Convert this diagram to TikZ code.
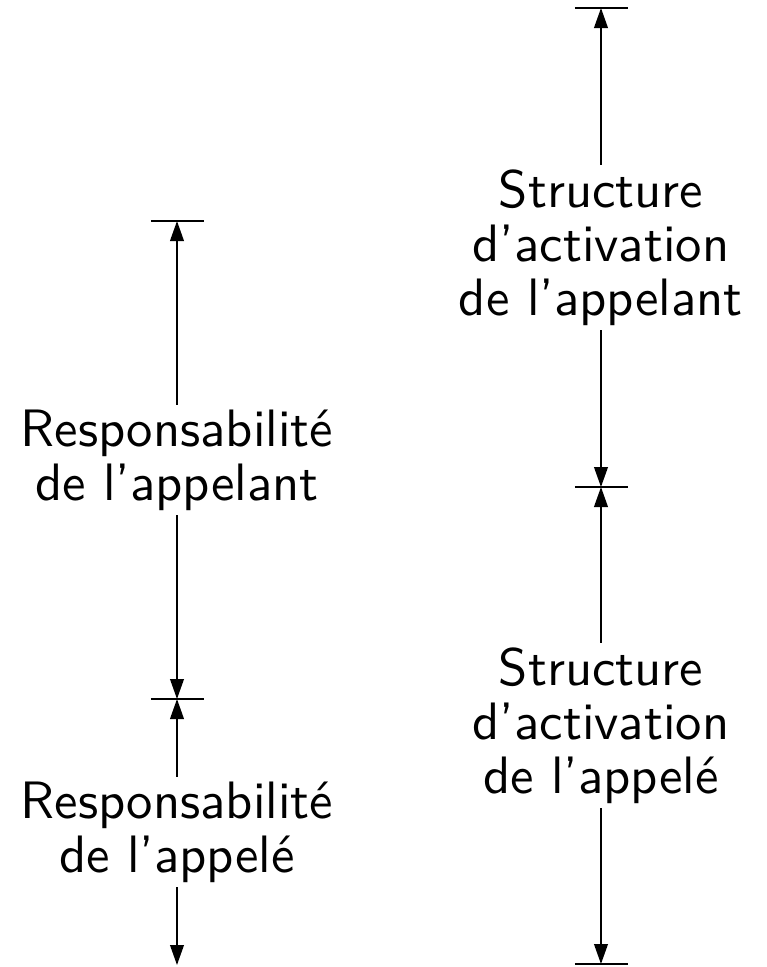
\documentclass[tikz,border=0pt]{standalone}
\usetikzlibrary{arrows.meta}
\begin{document}
\begin{tikzpicture}[x=0.19pt,y=-0.19pt,
  tip/.tip={Triangle[length=3.8pt,width=2.6pt]},
  dim/.style={line width=0.34pt,tip-tip},
  dimdown/.style={line width=0.34pt,-tip},
  tick/.style={line width=0.34pt},
  lbl/.style={fill=white,align=center,inner sep=0.8pt,font=\sffamily\fontsize{10}{10.3}\selectfont}]
\useasboundingbox (0,0) rectangle (767,967);
% left column
\coordinate (L1) at (177,221);
\coordinate (L2) at (177,699);
\coordinate (L3) at (177,965);
\draw[tick] (151,221) -- (204,221);
\draw[tick] (151,699) -- (204,699);
\draw[dim] (L1) -- (L2) node[midway,lbl] (la) {Responsabilité\\de l’appelant};
\draw[dim] (L2) -- (L3) node[midway,lbl] (lb) {Responsabilité\\de l’appelé};
% right column
\coordinate (R1) at (601,8);
\coordinate (R2) at (601,487);
\coordinate (R3) at (601,964);
\draw[tick] (575,8) -- (628,8);
\draw[tick] (575,487) -- (628,487);
\draw[tick] (575,964) -- (628,964);
\draw[dim] (R1) -- (R2) node[midway,lbl] (ra) {Structure\\d’activation\\de l’appelant};
\draw[dim] (R2) -- (R3) node[midway,lbl] (rb) {Structure\\d’activation\\de l’appelé};
\end{tikzpicture}
\end{document}
